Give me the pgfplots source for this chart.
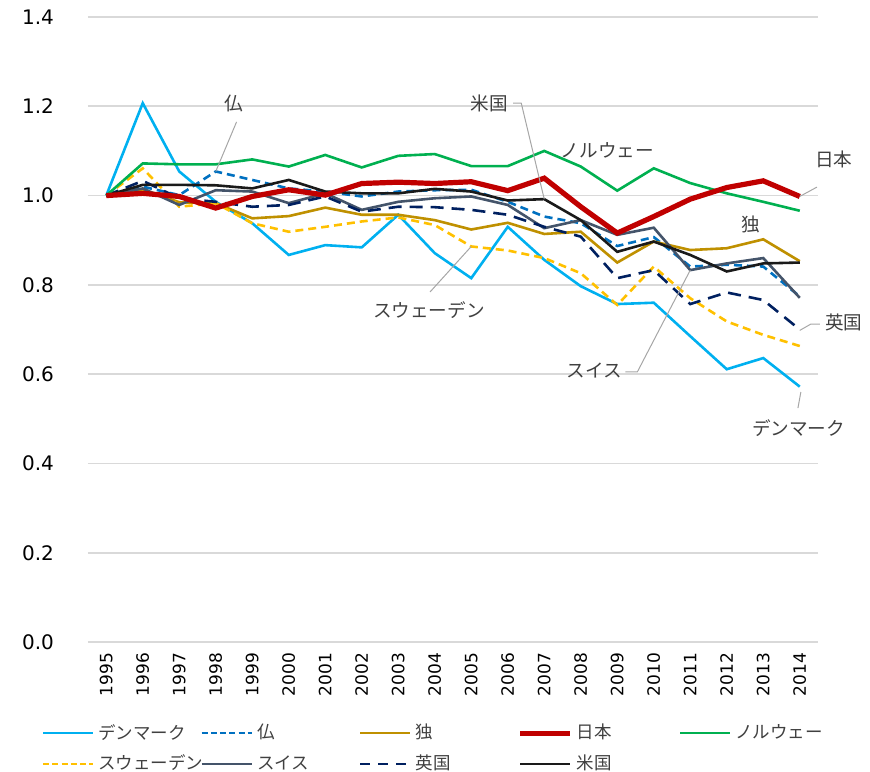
\documentclass[border=0pt]{standalone}
\usepackage{pgfplots}
\pgfplotsset{compat=1.18}
\usepackage{pgfplotstable}
\usepackage{fontspec}
\setmainfont{DejaVu Sans}
\newfontfamily\jp{Noto Sans CJK JP}
\definecolor{cDK}{HTML}{00B0F0}
\definecolor{cFR}{HTML}{0070C0}
\definecolor{cDE}{HTML}{BF9000}
\definecolor{cJP}{HTML}{C00000}
\definecolor{cNO}{HTML}{00B050}
\definecolor{cSE}{HTML}{FFC000}
\definecolor{cCH}{HTML}{44546A}
\definecolor{cUK}{HTML}{002060}
\definecolor{cUS}{HTML}{1A1A1A}
\definecolor{gridc}{HTML}{D9D9D9}
\definecolor{txt}{HTML}{404040}
\definecolor{lead}{HTML}{A6A6A6}
\pgfplotstableread{
year DK FR DE JP NO SE CH UK US
1995 1.000 1.000 1.000 1.000 1.000 1.000 1.000 1.000 1.000
1996 1.207 1.020 1.014 1.005 1.072 1.061 1.016 1.033 1.024
1997 1.054 1.001 0.985 0.998 1.070 0.975 0.979 0.994 1.024
1998 0.986 1.054 0.983 0.972 1.070 0.983 1.012 0.986 1.023
1999 0.938 1.035 0.949 0.998 1.081 0.938 1.009 0.975 1.016
2000 0.867 1.016 0.954 1.013 1.065 0.919 0.983 0.979 1.035
2001 0.889 1.009 0.973 1.001 1.091 0.930 1.005 0.998 1.009
2002 0.884 0.998 0.957 1.027 1.063 0.942 0.968 0.964 1.005
2003 0.957 1.009 0.957 1.030 1.089 0.951 0.986 0.975 1.005
2004 0.871 1.012 0.945 1.027 1.093 0.934 0.994 0.974 1.015
2005 0.815 1.013 0.924 1.031 1.066 0.886 0.998 0.968 1.009
2006 0.930 0.986 0.939 1.011 1.066 0.877 0.979 0.957 0.989
2007 0.856 0.953 0.914 1.039 1.100 0.860 0.927 0.930 0.992
2008 0.797 0.938 0.919 0.975 1.065 0.826 0.945 0.908 0.945
2009 0.757 0.887 0.850 0.916 1.011 0.755 0.912 0.815 0.874
2010 0.760 0.907 0.897 0.953 1.061 0.841 0.928 0.833 0.897
2011 0.685 0.841 0.878 0.992 1.028 0.770 0.833 0.757 0.867
2012 0.611 0.845 0.882 1.018 1.005 0.718 0.848 0.783 0.830
2013 0.636 0.841 0.902 1.033 0.986 0.688 0.860 0.766 0.848
2014 0.572 0.774 0.853 0.998 0.966 0.663 0.771 0.700 0.850
}\data
\begin{document}
\begin{tikzpicture}
\begin{axis}[
  scale only axis, width=365pt, height=312.5pt,
  at={(0pt,0pt)}, anchor=south west,
  xmin=1994.5, xmax=2014.5, ymin=0, ymax=1.4,
  clip=false,
  axis line style={draw=none},
  major tick length=0pt,
  xtick={1995,...,2014},
  ytick={0,0.2,0.4,0.6,0.8,1.0,1.2,1.4},
  ymajorgrids, grid style={gridc, line width=0.9pt},
  /pgf/number format/assume math mode=true,
  xticklabel style={rotate=90, anchor=east, font=\fontsize{8.5}{10}\selectfont, /pgf/number format/1000 sep={}, xshift=-2pt},
  yticklabel style={font=\fontsize{10}{12}\selectfont, xshift=-13.5pt, /pgf/number format/.cd, fixed, fixed zerofill, precision=1},
  legend columns=5,
  legend cell align=left,
  legend image code/.code={\draw[#1, line cap=butt] (0pt,0pt) -- (25pt,0pt);},
  legend style={at={(-0.072,-0.118)}, anchor=north west, draw=none, fill=none,
    font=\jp\fontsize{8.75}{10}\selectfont, text=txt,
    /tikz/every even column/.append style={column sep=0pt},
    row sep=2.5pt},
]
% legend entries in the reference order
\addlegendimage{cDK, line width=1.3pt}
\addlegendentry{\makebox[49pt][l]{デンマーク}}
\addlegendimage{cFR, line width=1.3pt, dash pattern=on 3pt off 1.6pt}
\addlegendentry{\makebox[49pt][l]{仏}}
\addlegendimage{cDE, line width=1.3pt}
\addlegendentry{\makebox[49pt][l]{独}}
\addlegendimage{cJP, line width=2.6pt}
\addlegendentry{\makebox[49pt][l]{日本}}
\addlegendimage{cNO, line width=1.3pt}
\addlegendentry{\makebox[49pt][l]{ノルウェー}}
\addlegendimage{cSE, line width=1.3pt, dash pattern=on 3pt off 1.6pt}
\addlegendentry{\makebox[49pt][l]{スウェーデン}}
\addlegendimage{cCH, line width=1.3pt}
\addlegendentry{\makebox[49pt][l]{スイス}}
\addlegendimage{cUK, line width=1.3pt, dash pattern=on 5pt off 4pt}
\addlegendentry{\makebox[49pt][l]{英国}}
\addlegendimage{cUS, line width=1.3pt}
\addlegendentry{\makebox[49pt][l]{米国}}

\addplot[forget plot, cDK, line width=1.3pt] table[x=year, y=DK] {\data};
\addplot[forget plot, cFR, line width=1.3pt, dash pattern=on 4pt off 2.5pt] table[x=year, y=FR] {\data};
\addplot[forget plot, cDE, line width=1.3pt] table[x=year, y=DE] {\data};
\addplot[forget plot, cSE, line width=1.3pt, dash pattern=on 4pt off 2.5pt] table[x=year, y=SE] {\data};
\addplot[forget plot, cCH, line width=1.3pt] table[x=year, y=CH] {\data};
\addplot[forget plot, cUK, line width=1.3pt, dash pattern=on 6.5pt off 4pt] table[x=year, y=UK] {\data};
\addplot[forget plot, cUS, line width=1.3pt] table[x=year, y=US] {\data};
\addplot[forget plot, cNO, line width=1.3pt] table[x=year, y=NO] {\data};
\addplot[forget plot, cJP, line width=2.6pt] table[x=year, y=JP] {\data};

% annotations
\begin{scope}[every node/.style={font=\jp\fontsize{9.3}{11}\selectfont, text=txt}]
\draw[lead, line width=0.5pt] (axis cs:1998.57,1.165) -- (axis cs:1998,1.054);
\node at (axis cs:1998.49,1.207) {仏};
\draw[lead, line width=0.5pt] (axis cs:2006.15,1.207) -- (axis cs:2006.37,1.207) -- (axis cs:2007,0.992);
\node at (axis cs:2005.49,1.207) {米国};
\node at (axis cs:2008.73,1.102) {ノルウェー};
\draw[lead, line width=0.5pt] (axis cs:2014,0.998) -- (axis cs:2014.47,1.019);
\node at (axis cs:2014.93,1.080) {日本};
\node at (axis cs:2012.66,0.936) {独};
\draw[lead, line width=0.5pt] (axis cs:2014,0.698) -- (axis cs:2014.3,0.712) -- (axis cs:2014.55,0.712);
\node at (axis cs:2015.21,0.715) {英国};
\draw[lead, line width=0.5pt] (axis cs:2014.03,0.560) -- (axis cs:2013.95,0.524);
\node at (axis cs:2013.97,0.479) {デンマーク};
\draw[lead, line width=0.5pt] (axis cs:2009.22,0.605) -- (axis cs:2009.55,0.605) -- (axis cs:2011,0.833);
\node at (axis cs:2008.37,0.609) {スイス};
\draw[lead, line width=0.5pt] (axis cs:2003.87,0.784) -- (axis cs:2005,0.886);
\node at (axis cs:2003.84,0.744) {スウェーデン};
\end{scope}
\end{axis}
\pgfresetboundingbox
\useasboundingbox (-44pt,-64.5pt) rectangle (391pt,321pt);
\end{tikzpicture}
\end{document}
